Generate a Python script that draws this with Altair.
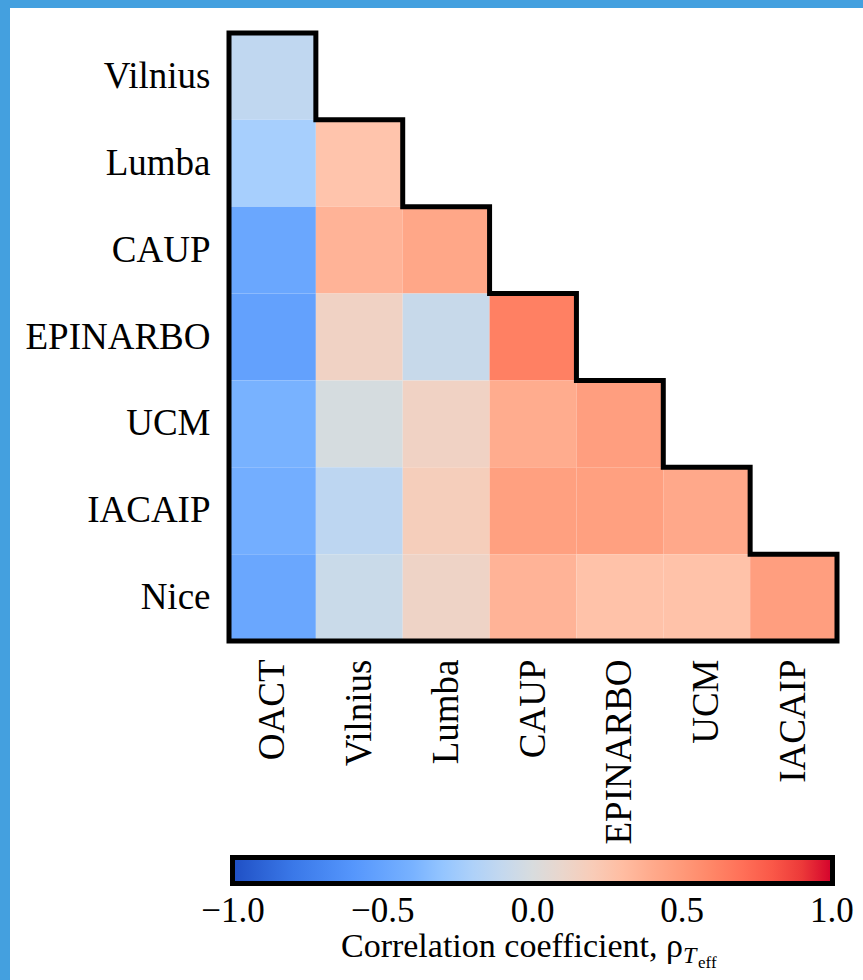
import altair as alt
import pandas as pd

# ---- data -------------------------------------------------------------
rows = ["Vilnius", "Lumba", "CAUP", "EPINARBO", "UCM", "IACAIP", "Nice"]
cols = ["OACT", "Vilnius", "Lumba", "CAUP", "EPINARBO", "UCM", "IACAIP"]

r_vilnius = [-0.12]
r_lumba = [-0.23, 0.26]
r_caup = [-0.48, 0.35, 0.42]
r_epinarbo = [-0.52, 0.14, -0.08, 0.63]
r_ucm = [-0.40, -0.01, 0.14, 0.39, 0.47]
r_iacaip = [-0.43, -0.13, 0.18, 0.46, 0.46, 0.41]
r_nice = [-0.48, -0.07, 0.13, 0.35, 0.27, 0.27, 0.47]
matrix = [r_vilnius, r_lumba, r_caup, r_epinarbo, r_ucm, r_iacaip, r_nice]

tick_values = [-1.0, -0.5, 0.0, 0.5, 1.0]

# colour-bar stops (ends padded a hair so that the end labels stay centred)
cmap_stops = [-1.002, -0.8, -0.6, -0.4, -0.25, -0.1, 0.0, 0.1, 0.25, 0.4, 0.55, 0.7, 0.85, 1.002]
cmap_colors = ["#1f4fc4", "#3a78e8", "#5596fc", "#78b2ff", "#a2ceff", "#c4d8ee",
               "#d8dcde", "#ead6cc", "#ffc6ae", "#ffaa8c", "#ff9070", "#ff7058",
               "#f84a40", "#d4002c"]

FONT = "Liberation Serif"
FS_AXIS = 37
FS = 35

# ---- tables -----------------------------------------------------------
cells = []
for ri, vals in enumerate(matrix):
    for ci, v in enumerate(vals):
        cells.append({"ci": ci, "ci2": ci + 1, "ri": ri, "ri2": ri + 1,
                      "rho": v, "row": rows[ri], "col": cols[ci]})
cells = pd.DataFrame(cells)

n = len(rows)
pts = [(0, 0)]
for i in range(n):
    pts.append((i + 1, i))
    pts.append((i + 1, i + 1))
pts.append((0, n))
pts.append((0, 0))
outline = pd.DataFrame({"lx": [p[0] for p in pts], "ly": [p[1] for p in pts],
                        "k": list(range(len(pts)))})

xscale = alt.Scale(domain=[0, n], nice=False, zero=False)
yscale = alt.Scale(domain=[0, n], nice=False, zero=False, reverse=True)

col_arr = "[" + ",".join("'%s'" % c for c in cols) + "]"
row_arr = "[" + ",".join("'%s'" % r for r in rows) + "]"
centers = [i + 0.5 for i in range(n)]

xaxis = alt.Axis(values=centers, labelExpr=col_arr + "[floor(datum.value)]",
                 labelAngle=-90, labelPadding=18, title=None, zindex=1,
                 labelOverlap=False, labelLimit=400)
yaxis = alt.Axis(values=centers, labelExpr=row_arr + "[floor(datum.value)]",
                 labelPadding=19, title=None, zindex=1, labelOverlap=False,
                 labelLimit=400)

# white page inside the blue frame
page = alt.Chart(pd.DataFrame({"a": [0]})).mark_rect(color="white").encode(
    x=alt.value(-219), x2=alt.value(634), y=alt.value(-25), y2=alt.value(947)
)

heat = alt.Chart(cells).mark_rect(strokeWidth=0).encode(
    x=alt.X("ci:Q", scale=xscale, axis=xaxis),
    x2="ci2:Q",
    y=alt.Y("ri:Q", scale=yscale, axis=yaxis),
    y2="ri2:Q",
    color=alt.Color(
        "rho:Q",
        scale=alt.Scale(domain=cmap_stops, range=cmap_colors, type="linear"),
        legend=alt.Legend(
            orient="none", legendX=3.5, legendY=824.5, direction="horizontal",
            gradientLength=600, gradientThickness=26,
            gradientStrokeColor="black", gradientStrokeWidth=5,
            values=tick_values, format=".1f",
            labelFont=FONT, labelFontSize=FS, labelColor="black",
            labelAlign="center", labelOffset=10, labelOverlap=False,
            title=None, padding=0,
        ),
    ),
)

border = alt.Chart(outline).mark_line(color="black", strokeWidth=5,
                                       strokeJoin="miter", strokeCap="square").encode(
    x=alt.X("lx:Q", scale=xscale, axis=xaxis),
    y=alt.Y("ly:Q", scale=yscale, axis=yaxis),
    order="k:Q",
)

title_main = alt.Chart(pd.DataFrame({"t": ["Correlation coefficient, \u03c1"]})).mark_text(
    font=FONT, fontSize=34, align="right", baseline="alphabetic", color="black"
).encode(text="t:N", x=alt.value(454), y=alt.value(924))

title_sub = alt.Chart(pd.DataFrame({"t": ["T"]})).mark_text(
    font=FONT, fontSize=24, align="left", baseline="alphabetic", color="black", fontStyle="italic"
).encode(text="t:N", x=alt.value(454), y=alt.value(930))

title_subsub = alt.Chart(pd.DataFrame({"t": ["eff"]})).mark_text(
    font=FONT, fontSize=17, align="left", baseline="alphabetic", color="black"
).encode(text="t:N", x=alt.value(469), y=alt.value(935))

chart = alt.layer(page, heat, border, title_main, title_sub, title_subsub).properties(
    width=608, height=608,
    autosize=alt.AutoSizeParams(type="none"),
    padding={"left": 229, "top": 33, "right": 26, "bottom": 339},
    background="#44a0df",
).configure_view(stroke=None).configure_axis(
    labelFont=FONT, labelFontSize=FS_AXIS, labelColor="black",
    ticks=False, domain=False, grid=False,
)

chart.save("out.html", embed_options={"renderer": "svg", "actions": False})
